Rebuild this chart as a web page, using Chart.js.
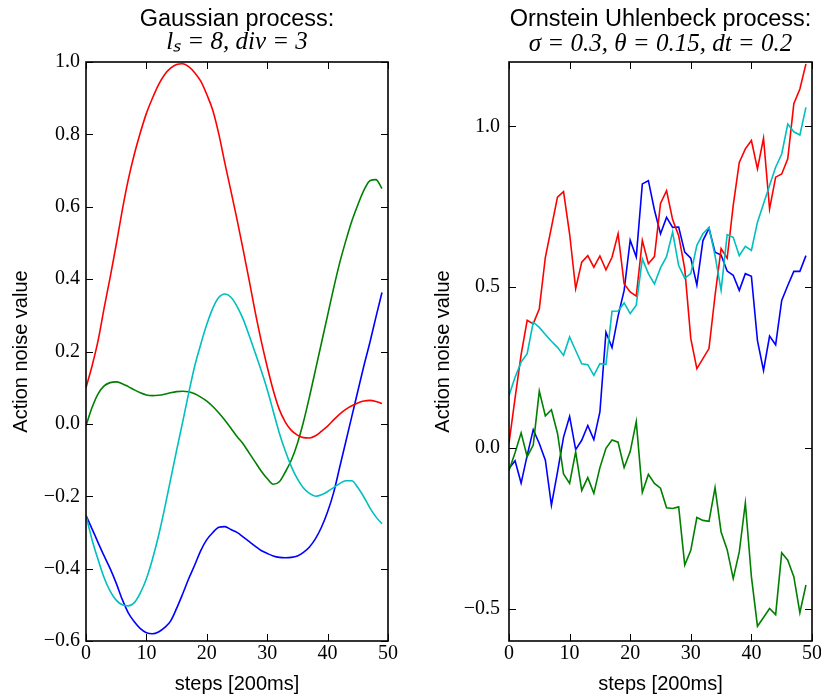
<!DOCTYPE html>
<html><head><meta charset="utf-8">
<script src="https://cdn.jsdelivr.net/npm/chart.js@4"></script>
<style>
html,body{margin:0;padding:0;background:#fff;overflow:hidden;width:821px;height:696px;}
canvas{position:absolute;top:0;}
#c1{left:0;}
#c2{left:420px;}
</style></head><body>
<canvas id="c1" width="420" height="696"></canvas>
<canvas id="c2" width="420" height="696"></canvas>
<script>
// ---------- data ----------
const steps = [0,1,2,3,4,5,6,7,8,9,10,11,12,13,14,15,16,17,18,19,20,21,22,23,24,25,26,27,28,29,30,31,32,33,34,35,36,37,38,39,40,41,42,43,44,45,46,47,48,49];
const xTicks = [0,10,20,30,40,50];
const gpYTicks = [-0.6,-0.4,-0.2,0.0,0.2,0.4,0.6,0.8,1.0];
const ouYTicks = [-0.5,0.0,0.5,1.0];

const gpBlue = [-0.253,-0.29,-0.328,-0.365,-0.40,-0.44,-0.485,-0.522,-0.547,-0.566,-0.577,-0.58,-0.575,-0.563,-0.545,-0.51,-0.47,-0.428,-0.39,-0.35,-0.32,-0.30,-0.286,-0.284,-0.292,-0.30,-0.312,-0.325,-0.338,-0.35,-0.358,-0.365,-0.369,-0.37,-0.369,-0.365,-0.355,-0.34,-0.317,-0.285,-0.243,-0.19,-0.12,-0.05,0.02,0.09,0.16,0.225,0.295,0.363];
const gpGreen = [-0.005,0.045,0.083,0.105,0.114,0.116,0.111,0.103,0.094,0.086,0.08,0.078,0.079,0.082,0.086,0.089,0.09,0.089,0.083,0.074,0.063,0.048,0.03,0.01,-0.012,-0.035,-0.055,-0.08,-0.105,-0.13,-0.151,-0.167,-0.16,-0.133,-0.10,-0.054,0.005,0.075,0.15,0.225,0.30,0.375,0.445,0.505,0.56,0.605,0.645,0.672,0.675,0.65];
const gpRed = [0.10,0.16,0.23,0.32,0.405,0.495,0.59,0.675,0.745,0.805,0.858,0.90,0.937,0.965,0.983,0.993,0.995,0.987,0.97,0.947,0.91,0.866,0.80,0.72,0.643,0.565,0.483,0.398,0.31,0.23,0.158,0.093,0.04,0.005,-0.018,-0.031,-0.038,-0.039,-0.033,-0.02,-0.006,0.011,0.027,0.04,0.05,0.058,0.063,0.065,0.062,0.056];
const gpCyan = [-0.253,-0.32,-0.375,-0.425,-0.462,-0.487,-0.50,-0.503,-0.494,-0.467,-0.428,-0.374,-0.31,-0.235,-0.154,-0.073,0.005,0.085,0.16,0.22,0.275,0.32,0.35,0.359,0.35,0.325,0.29,0.245,0.197,0.148,0.095,0.035,-0.025,-0.075,-0.118,-0.152,-0.177,-0.192,-0.2,-0.196,-0.187,-0.176,-0.165,-0.157,-0.157,-0.176,-0.202,-0.232,-0.257,-0.276];

const ouBlue = [-0.064,-0.04,-0.109,-0.023,0.057,0.014,-0.038,-0.178,-0.075,0.034,0.098,-0.005,0.024,0.07,0.026,0.112,0.36,0.312,0.41,0.49,0.646,0.594,0.821,0.831,0.74,0.666,0.717,0.686,0.687,0.609,0.59,0.507,0.645,0.683,0.609,0.6,0.55,0.537,0.49,0.542,0.534,0.334,0.241,0.348,0.321,0.459,0.505,0.549,0.549,0.598];
const ouGreen = [-0.07,-0.015,0.047,-0.027,0.009,0.177,0.1,0.119,0.046,-0.081,-0.11,-0.012,-0.132,-0.092,-0.141,-0.061,-0.001,0.025,0.018,-0.061,-0.011,0.082,-0.138,-0.082,-0.11,-0.125,-0.186,-0.188,-0.183,-0.364,-0.318,-0.216,-0.225,-0.228,-0.123,-0.261,-0.316,-0.406,-0.323,-0.171,-0.40,-0.554,-0.527,-0.499,-0.518,-0.326,-0.349,-0.4,-0.512,-0.426];
const ouRed = [0.015,0.155,0.29,0.397,0.386,0.433,0.593,0.686,0.78,0.797,0.666,0.495,0.578,0.598,0.562,0.597,0.554,0.593,0.666,0.51,0.485,0.472,0.645,0.573,0.595,0.76,0.80,0.71,0.66,0.557,0.34,0.247,0.278,0.309,0.474,0.62,0.59,0.754,0.888,0.93,0.956,0.868,0.963,0.743,0.842,0.852,0.899,1.07,1.116,1.194];
const ouCyan = [0.163,0.22,0.267,0.293,0.391,0.375,0.353,0.332,0.313,0.288,0.345,0.303,0.262,0.259,0.226,0.262,0.26,0.425,0.426,0.451,0.418,0.444,0.588,0.542,0.51,0.56,0.595,0.671,0.567,0.528,0.542,0.63,0.666,0.686,0.598,0.49,0.663,0.655,0.598,0.627,0.614,0.702,0.759,0.816,0.873,0.914,1.007,0.983,0.973,1.059];

// ---------- styling ----------
const COLORS = {b:'#0000ff', g:'#008000', r:'#ff0000', c:'#00bfbf'};
const tickFont = {family:'Liberation Serif', size:20};
const labelFont = {family:'Liberation Sans', size:20, lineHeight:1.2};
const fmt = v => v.toFixed(1).replace('-', '\u2212');

const framePlugin = {
  id:'frame',
  afterDatasetsDraw(chart){
    const {ctx, chartArea:{left,right,top,bottom}, scales:{x,y}} = chart;
    ctx.save();
    ctx.strokeStyle = '#000';
    ctx.lineWidth = 1;
    const L = 7;
    ctx.beginPath();
    x.ticks.forEach(t => {
      const p = Math.round(x.getPixelForValue(t.value)) + 0.5;
      ctx.moveTo(p, bottom); ctx.lineTo(p, bottom - L);
      ctx.moveTo(p, top); ctx.lineTo(p, top + L);
    });
    y.ticks.forEach(t => {
      const p = Math.round(y.getPixelForValue(t.value)) + 0.5;
      ctx.moveTo(left, p); ctx.lineTo(left + L, p);
      ctx.moveTo(right, p); ctx.lineTo(right - L, p);
    });
    ctx.stroke();
    ctx.lineWidth = 1.6;
    ctx.strokeRect(left, top, right - left, bottom - top);
    ctx.restore();
  }
};

function ds(data, color, order, smooth){
  return {data, borderColor:color, borderWidth:1.6, pointRadius:0, fill:false,
          order, tension: smooth ? 0.4 : 0, cubicInterpolationMode: smooth ? 'monotone' : 'default'};
}

function makeChart(id, cfg){
  return new Chart(document.getElementById(id), {
    type:'line',
    data:{labels: steps, datasets: cfg.datasets},
    options:{
      responsive:false, animation:false, devicePixelRatio:1,
      layout:{padding:{left:0, right:cfg.padRight, top:0, bottom:0}},
      plugins:{
        legend:{display:false}, tooltip:{enabled:false},
        title:{display:true, fullSize:false, text:cfg.title, color:'#000',
               font:{family:'Liberation Sans', size:23.5, weight:'normal', lineHeight:1},
               padding:{top:8, bottom:0}},
        subtitle:{display:true, fullSize:false, text:cfg.subtitle, color:'#000',
               font:{family:'Liberation Serif', size:25, style:'italic', weight:'normal', lineHeight:0.9},
               padding:cfg.subPad}
      },
      scales:{
        x:{type:'linear', min:0, max:50,
           afterBuildTicks: s => { s.ticks = xTicks.map(v => ({value:v})); },
           grid:{display:false, drawTicks:false}, border:{display:false},
           ticks:{font:tickFont, color:'#000', padding:1, maxRotation:0, autoSkip:false, callback: v => String(v)},
           title:{display:true, text:'steps [200ms]', color:'#000', font:labelFont, padding:{top:3.3, bottom:0}},
           afterFit: s => { s.height = 55; s.paddingLeft = 0; s.paddingRight = 0; }
        },
        y:{type:'linear', min:cfg.ymin, max:cfg.ymax,
           afterBuildTicks: s => { s.ticks = cfg.yTicks.map(v => ({value:v})); },
           grid:{display:false, drawTicks:false}, border:{display:false},
           ticks:{font:tickFont, color:'#000', padding:cfg.yTickPad, autoSkip:false, callback: v => fmt(v)},
           title:{display:true, text:'Action noise value', color:'#000', font:labelFont, padding:{top:cfg.yTitlePad, bottom:0}},
           afterFit: s => { s.width = cfg.yWidth; s.paddingTop = 0; s.paddingBottom = 0; }
        }
      }
    },
    plugins:[framePlugin]
  });
}

makeChart('c1', {
  title:'Gaussian process:',
  subtitle:'l\u209B = 8, div = 3',
  subPad:{top:0, bottom:8},
  padRight:32, yWidth:86, yTickPad:6, yTitlePad:9,
  ymin:-0.6, ymax:1.0, yTicks:gpYTicks,
  datasets:[ds(gpBlue,COLORS.b,3,true), ds(gpGreen,COLORS.g,2,true), ds(gpRed,COLORS.r,1,true), ds(gpCyan,COLORS.c,0,true)]
});

makeChart('c2', {
  title:'Ornstein Uhlenbeck process:',
  subtitle:'\u03C3 = 0.3, \u03B8 = 0.15, dt = 0.2',
  subPad:{top:1.5, bottom:6.5},
  padRight:28, yWidth:89, yTickPad:9, yTitlePad:11,
  ymin:-0.6, ymax:1.2, yTicks:ouYTicks,
  datasets:[ds(ouBlue,COLORS.b,3,false), ds(ouGreen,COLORS.g,2,false), ds(ouRed,COLORS.r,1,false), ds(ouCyan,COLORS.c,0,false)]
});
</script>
</body></html>
